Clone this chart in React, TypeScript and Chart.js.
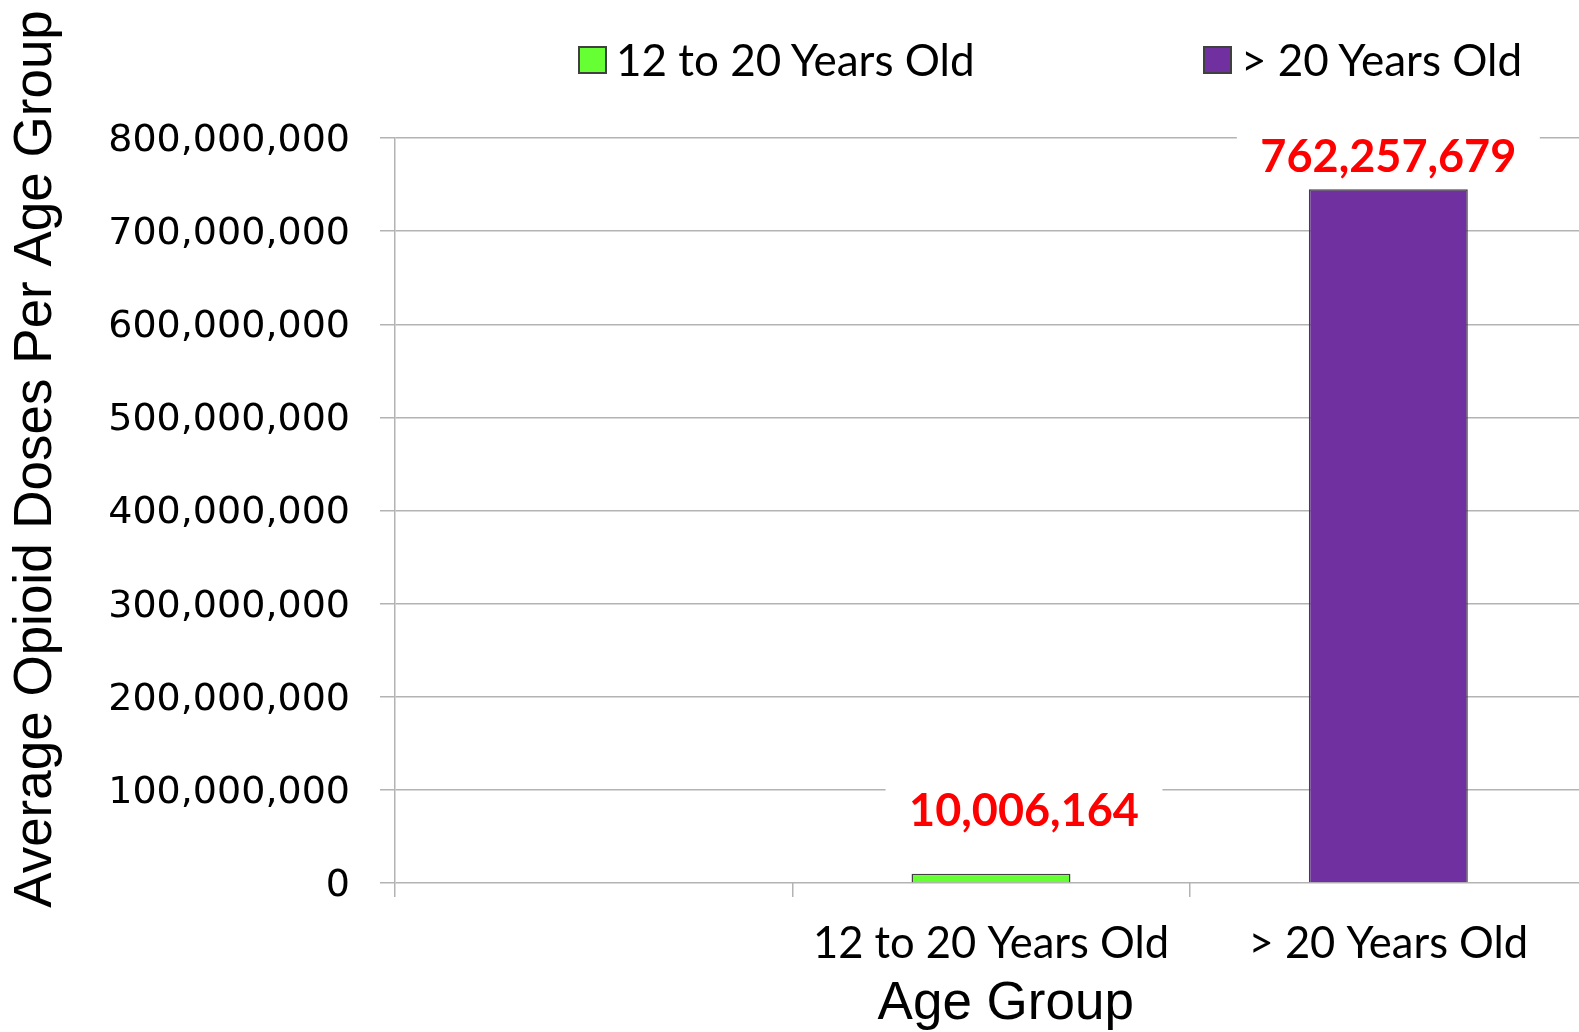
import React, { useEffect, useRef } from "react";
import { Chart, registerables } from "chart.js";

Chart.register(...registerables);

// ---- data ----
const categories = ["", "12 to 20 Years Old", "> 20 Years Old"];
const seriesNames = ["12 to 20 Years Old", "> 20 Years Old"];
const youthDoses = [null, 10006164, null];
const adultDoses = [null, null, 745000000];
const youthLabelTexts = [null, "10,006,164", null];
const adultLabelTexts = [null, null, "762,257,679"];
const seriesColors = ["#66FF33", "#7030A0"];
const yMin = 0;
const yMax = 800000000;
const yStep = 100000000;
const yTitle = "Average Opioid Doses Per Age Group";
const xTitle = "Age Group";

// ---- styling ----
const GRID = "#b3b3b3";
const LEGEND_POS = [
  { left: 578, top: 37 },
  { left: 1203, top: 37 },
];

const valueLabelPlugin = {
  id: "valueLabels",
  afterDatasetsDraw(chart: any) {
    const ctx = chart.ctx;
    chart.data.datasets.forEach((ds: any, i: number) => {
      const meta = chart.getDatasetMeta(i);
      const texts = ds.labelTexts || [];
      meta.data.forEach((el: any, j: number) => {
        const t = texts[j];
        if (!t) return;
        const { x, y } = el.getProps(["x", "y"], true);
        ctx.save();
        ctx.font = "bold 45px Lato";
        const w = ctx.measureText(t).width;
        const cx = x + (ds.labelShiftX || 0);
        const cy = y - ds.labelLift;
        ctx.fillStyle = "#ffffff";
        ctx.fillRect(cx - w / 2 - 23.5, cy - 28, w + 47, 56);
        ctx.fillStyle = "#ff0000";
        ctx.textAlign = "center";
        ctx.textBaseline = "middle";
        ctx.fillText(t, cx, cy);
        ctx.restore();
      });
    });
  },
};

export default function App() {
  const canvasRef = useRef<HTMLCanvasElement | null>(null);

  useEffect(() => {
    if (!canvasRef.current) return;
    const chart = new Chart(canvasRef.current, {
      type: "bar",
      data: {
        labels: categories,
        datasets: [
          {
            label: seriesNames[0],
            data: youthDoses,
            backgroundColor: seriesColors[0],
            borderColor: "#404040",
            borderWidth: 1.5,
            labelTexts: youthLabelTexts,
            labelLift: 62,
            labelShiftX: 33,
          } as any,
          {
            label: seriesNames[1],
            data: adultDoses,
            backgroundColor: seriesColors[1],
            borderColor: "#404040",
            borderWidth: 1.5,
            labelTexts: adultLabelTexts,
            labelLift: 32,
            labelShiftX: 0,
          } as any,
        ],
      },
      options: {
        animation: false,
        responsive: false,
        devicePixelRatio: 1,
        layout: { padding: { top: 138, left: 0, right: 0, bottom: 0 } },
        datasets: { bar: { categoryPercentage: 0.8, barPercentage: 0.5 } },
        plugins: {
          legend: { display: false },
          tooltip: { enabled: false },
        },
        scales: {
          x: {
            stacked: true,
            grid: {
              display: true,
              drawOnChartArea: false,
              drawTicks: true,
              tickLength: 14,
              color: GRID,
              lineWidth: 1.5,
              offset: true,
            },
            border: { display: false },
            ticks: {
              color: "#000",
              font: { family: "Lato", size: 43.5 },
              padding: 21,
            },
            title: {
              display: true,
              text: "  " + xTitle,
              color: "#000",
              font: { family: "'Liberation Sans', Arial", size: 53, lineHeight: 1 },
              padding: { top: 0, bottom: 1 },
            },
            afterFit: (s: any) => {
              s.height = 149;
            },
          },
          y: {
            stacked: true,
            min: yMin,
            max: yMax,
            ticks: {
              stepSize: yStep,
              color: "#000",
              font: { family: "'DejaVu Sans'", size: 38 },
              padding: 30,
              labelOffset: 3,
              callback: (v: any) => Number(v).toLocaleString("en-US"),
            },
            grid: { color: GRID, lineWidth: 1.5, tickLength: 15, drawTicks: true },
            border: { display: true, color: GRID, width: 1.5 },
            title: {
              display: true,
              text: "       " + yTitle,
              color: "#000",
              font: { family: "'Liberation Sans', Arial", size: 53, lineHeight: 1 },
              padding: { top: 10, bottom: 0 },
            },
            afterFit: (s: any) => {
              s.width = 395;
            },
          },
        },
      },
      plugins: [valueLabelPlugin],
    } as any);
    return () => chart.destroy();
  }, []);

  return (
    <div
      style={{
        position: "fixed",
        left: 0,
        top: 0,
        width: 1579,
        height: 1032,
        overflow: "hidden",
        background: "#fff",
      }}
    >
      <canvas
        ref={canvasRef}
        width={1587}
        height={1032}
        style={{ position: "absolute", left: 0, top: 0, width: 1587, height: 1032 }}
      />
      {seriesNames.map((name, i) => (
        <div
          key={name}
          style={{
            position: "absolute",
            left: LEGEND_POS[i].left,
            top: LEGEND_POS[i].top,
            height: 44,
            display: "flex",
            alignItems: "center",
            fontFamily: "Lato",
            fontSize: 44,
            lineHeight: "44px",
            color: "#000",
            whiteSpace: "nowrap",
          }}
        >
          <span
            style={{
              display: "inline-block",
              width: 29,
              height: 28,
              boxSizing: "border-box",
              background: seriesColors[i],
              border: "2px solid #404040",
              marginRight: 9,
              position: "relative",
              top: 1,
            }}
          />
          <span>{name}</span>
        </div>
      ))}
    </div>
  );
}
